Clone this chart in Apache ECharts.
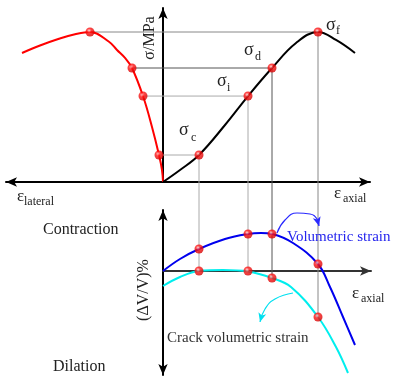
<!DOCTYPE html>
<html><head><meta charset="utf-8">
<script src="https://cdn.jsdelivr.net/npm/echarts@6/dist/echarts.min.js"></script>
<style>html,body{margin:0;padding:0;background:#fff}#c{width:406px;height:383px}</style>
</head><body><div id="c"></div>
<script>
// ---------- data ----------
const stressSubs = ['c', 'i', 'd', 'f'];
const stressLevels = [18, 57.3, 76, 100];
const lateralAtLevels = [-0.1, -0.5, -0.775, -1.825];
const axialAtLevels = [0.9, 2.125, 2.725, 3.875];
const lateralCurve = [[0,0],[-0.025,8],[-0.1,18],[-0.275,36.7],[-0.5,57.3],[-0.775,76],[-0.95,82.7],[-1.15,88],[-1.35,93.5],[-1.825,100],[-2.2,98.5],[-2.6,95.5],[-3.075,91],[-3.525,86]];
const axialCurve = [[0,0],[0.425,8],[0.9,18],[1.55,38],[2.125,57.3],[2.725,76],[3.325,92.7],[3.875,100],[4.325,94.7],[4.8,86]];
const volCurve = [[0,0],[0.425,1.2],[0.9,2.2],[1.55,3.2],[2.125,3.7],[2.45,3.8],[2.725,3.7],[3.25,2.8],[3.875,0.7],[4.175,-1.6],[4.5,-4.6],[4.8,-7.4]];
const volAtLevels = [2.2, 3.7, 3.7, 0.7];
const crackCurve = [[0,-1.5],[0.425,-0.6],[0.9,0],[1.5,0.1],[2.125,-0.05],[2.725,-0.7],[3.2,-1.6],[3.875,-4.6],[4.325,-7.6],[4.625,-10.2]];
const crackAtLevels = [0, 0, -0.7, -4.6];
// annotation pointer arcs (bottom panel units)
const volPointer = [[2.85,3.8],[3.05,5.1],[3.35,5.8],[3.675,5.7],[3.85,5.2],[3.9,4.5]];
const crackPointer = [[3.25,-2.2],[2.8,-2.8],[2.55,-3.8],[2.425,-5.1]];
const refColors = ['#aaaaaa', '#aaaaaa', '#555555', '#888888'];

// ---------- layout ----------
const T = {left: 6, top: 8, width: 364, height: 174, xmin: -3.925, xmax: 5.175, ymin: 0, ymax: 116};
const B = {left: 163, top: 210, width: 208, height: 165, xmin: 0, xmax: 5.2, ymin: -10.4, ymax: 6.1};
const gapVal = B.ymax + (B.top - (T.top + T.height)) * (B.ymax - B.ymin) / B.height;

const FONT = 'Liberation Serif';
const TXT = '#222';

const ball = {
  type: 'radial', x: 0.4, y: 0.35, r: 0.7,
  colorStops: [{offset: 0, color: '#ffd0d0'}, {offset: 0.35, color: '#ff1515'}, {offset: 1, color: '#d00000'}]
};

function axisX(idx, min, max, sym) {
  return {gridIndex: idx, type: 'value', min, max,
    axisLine: {show: true, onZero: true, symbol: sym, symbolSize: [7, 11], lineStyle: {color: idx === 0 ? '#000' : '#333', width: 2}},
    axisTick: {show: false}, axisLabel: {show: false}, splitLine: {show: false}};
}
function axisY(idx, min, max, sym) {
  return {gridIndex: idx, type: 'value', min, max,
    axisLine: {show: true, onZero: true, symbol: sym, symbolSize: [7, 11], lineStyle: {color: '#000', width: 2}},
    axisTick: {show: false}, axisLabel: {show: false}, splitLine: {show: false}};
}
function pointer(pts, color, rot) {
  return {type: 'line', xAxisIndex: 1, yAxisIndex: 1, silent: true, smooth: 0.5, clip: false, z: 4,
    showSymbol: true, symbol: 'none', lineStyle: {color, width: 1.2}, itemStyle: {color},
    data: pts.map((p, i) => i === pts.length - 1 ? {value: p, symbol: 'arrow', symbolSize: [6, 9], symbolRotate: rot} : {value: p, symbol: 'none'})};
}

const series = [];
// reference lines
stressLevels.forEach((s, i) => {
  series.push({type: 'line', xAxisIndex: 0, yAxisIndex: 0, silent: true, showSymbol: false, clip: false, z: 1,
    lineStyle: {color: refColors[i], width: 1},
    data: [[lateralAtLevels[i], s], [axialAtLevels[i], s], [axialAtLevels[i], 0]]});
  series.push({type: 'line', xAxisIndex: 1, yAxisIndex: 1, silent: true, showSymbol: false, clip: false, z: 1,
    lineStyle: {color: refColors[i], width: 1},
    data: [[axialAtLevels[i], gapVal], [axialAtLevels[i], Math.min(volAtLevels[i], crackAtLevels[i])]]});
});
// curves
series.push({type: 'line', xAxisIndex: 0, yAxisIndex: 0, showSymbol: false, smooth: 0.4, z: 3,
  lineStyle: {color: '#ff0000', width: 2}, data: lateralCurve});
series.push({type: 'line', xAxisIndex: 0, yAxisIndex: 0, showSymbol: false, smooth: 0.4, z: 3,
  lineStyle: {color: '#000000', width: 2}, data: axialCurve});
series.push({type: 'line', xAxisIndex: 1, yAxisIndex: 1, showSymbol: false, smooth: 0.4, z: 3, clip: false,
  lineStyle: {color: '#0000ee', width: 2}, data: volCurve});
series.push({type: 'line', xAxisIndex: 1, yAxisIndex: 1, showSymbol: false, smooth: 0.4, z: 3, clip: false,
  lineStyle: {color: '#00eeee', width: 2}, data: crackCurve});
series.push(pointer(volPointer, '#2a2aff', 195));
series.push(pointer(crackPointer, '#00e0f0', 165));
// points
const topPts = stressLevels.map((s, i) => [lateralAtLevels[i], s]).concat(stressLevels.map((s, i) => [axialAtLevels[i], s]));
const botPts = axialAtLevels.map((a, i) => [a, volAtLevels[i]]).concat(axialAtLevels.map((a, i) => [a, crackAtLevels[i]]));
series.push({type: 'scatter', xAxisIndex: 0, yAxisIndex: 0, symbolSize: 9, z: 5, itemStyle: {color: ball}, data: topPts});
series.push({type: 'scatter', xAxisIndex: 1, yAxisIndex: 1, symbolSize: 9, z: 5, clip: false, itemStyle: {color: ball}, data: botPts});

// text labels
function txt(text, x, y, size, color, extra) {
  return Object.assign({type: 'text', x, y, z: 10, style: {text, fontFamily: FONT, fontSize: size, fill: color || TXT, textAlign: 'left', textVerticalAlign: 'middle'}}, extra || {});
}
const sigmaPos = [[179, 130, 191, 138], [217, 81, 227, 88], [244, 50, 255, 57], [326, 25, 336, 31]];
const graphics = [];
stressSubs.forEach((s, i) => {
  const p = sigmaPos[i];
  graphics.push(txt('σ', p[0], p[1], 18));
  graphics.push(txt(s, p[2], p[3], 12));
});
graphics.push(txt('ε', 17, 197, 17), txt('lateral', 24, 202, 12));
graphics.push(txt('ε', 334, 194, 17), txt('axial', 343, 199, 12));
graphics.push(txt('ε', 352, 294, 17), txt('axial', 361, 299, 12));
graphics.push({type: 'text', x: 150, y: 38, rotation: Math.PI / 2, z: 10,
  style: {text: 'σ/MPa', fontFamily: FONT, fontSize: 16, fill: TXT, textAlign: 'center', textVerticalAlign: 'middle'}});
graphics.push({type: 'text', x: 144, y: 290, rotation: Math.PI / 2, z: 10,
  style: {text: '(ΔV/V)%', fontFamily: FONT, fontSize: 16, fill: TXT, textAlign: 'center', textVerticalAlign: 'middle'}});
graphics.push(txt('Contraction', 43, 230, 16));
graphics.push(txt('Dilation', 53, 367, 16));
graphics.push(txt('Volumetric strain', 287, 237, 15, '#2525ee'));
graphics.push(txt('Crack volumetric strain', 167, 338, 15, '#333'));

const chart = echarts.init(document.getElementById('c'), null, {renderer: 'canvas'});
chart.setOption({
  animation: false,
  backgroundColor: '#fff',
  grid: [
    {left: T.left, top: T.top, width: T.width, height: T.height},
    {left: B.left, top: B.top, width: B.width, height: B.height}
  ],
  xAxis: [axisX(0, T.xmin, T.xmax, ['arrow', 'arrow']), axisX(1, B.xmin, B.xmax, ['none', 'arrow'])],
  yAxis: [axisY(0, T.ymin, T.ymax, ['none', 'arrow']), axisY(1, B.ymin, B.ymax, ['arrow', 'arrow'])],
  series,
  graphic: graphics
});
</script></body></html>
